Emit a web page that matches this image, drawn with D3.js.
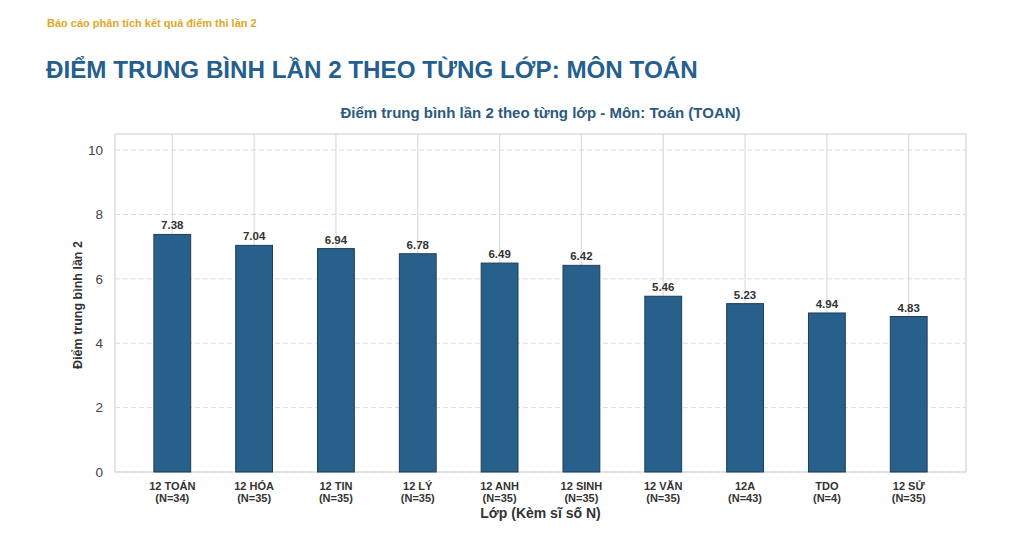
<!DOCTYPE html>
<html><head><meta charset="utf-8">
<script src="https://cdn.jsdelivr.net/npm/d3@7/dist/d3.min.js"></script>
<style>body{margin:0;background:#fff;}svg{display:block;font-family:"Liberation Sans",Arial,sans-serif;}</style>
</head><body>
<script>
const classes = ["12 TOÁN","12 HÓA","12 TIN","12 LÝ","12 ANH","12 SINH","12 VĂN","12A","TDO","12 SỬ"];
const counts = [34,35,35,35,35,35,35,43,4,35];
const scores = [7.38,7.04,6.94,6.78,6.49,6.42,5.46,5.23,4.94,4.83];
const yTicks = [0,2,4,6,8,10];

const W=1020,H=559;
const svg=d3.select("body").append("svg").attr("width",W).attr("height",H);
const L=115,R=966,T=134,B=472;
const x=d3.scaleLinear().domain([-0.7,classes.length-1+0.7]).range([L,R]);
const y=d3.scaleLinear().domain([0,10.5]).range([B,T]);
const bw=(x(0.45)-x(0));

svg.append("text").attr("x",47).attr("y",27).attr("font-size",11).attr("font-weight","bold").attr("fill","#e2a629").text("Báo cáo phân tích kết quả điểm thi lần 2");
svg.append("text").attr("x",46).attr("y",78).attr("font-size",24.2).attr("font-weight","bold").attr("fill","#245f8e").text("ĐIỂM TRUNG BÌNH LẦN 2 THEO TỪNG LỚP: MÔN TOÁN");
svg.append("text").attr("x",(L+R)/2).attr("y",118).attr("text-anchor","middle").attr("font-size",15).attr("font-weight","bold").attr("fill","#2b5a80").text("Điểm trung bình lần 2 theo từng lớp - Môn: Toán (TOAN)");

// grid
svg.append("g").selectAll("line").data(yTicks).join("line")
 .attr("x1",L).attr("x2",R).attr("y1",d=>y(d)).attr("y2",d=>y(d))
 .attr("stroke","#dcdcdc").attr("stroke-dasharray","5,3").attr("stroke-width",1);
svg.append("g").selectAll("line").data(classes).join("line")
 .attr("x1",(d,i)=>x(i)).attr("x2",(d,i)=>x(i)).attr("y1",T).attr("y2",B)
 .attr("stroke","#dcdcdc").attr("stroke-width",1.2);
svg.append("rect").attr("x",L).attr("y",T).attr("width",R-L).attr("height",B-T).attr("fill","none").attr("stroke","#d9d9d9").attr("stroke-width",1.3);

// bars
svg.append("g").selectAll("rect").data(scores).join("rect")
 .attr("x",(d,i)=>x(i)-bw/2).attr("width",bw).attr("y",d=>y(d)).attr("height",d=>y(0)-y(d))
 .attr("fill","#28608c").attr("stroke","#1e3d57").attr("stroke-width",1);
svg.append("g").selectAll("text").data(scores).join("text")
 .attr("x",(d,i)=>x(i)).attr("y",d=>y(d)-5).attr("text-anchor","middle")
 .attr("font-size",11.5).attr("font-weight","bold").attr("fill","#333").text(d=>d.toFixed(2));

// y axis
const ya=d3.axisLeft(y).tickValues(yTicks).tickSize(0).tickPadding(12);
const gy=svg.append("g").attr("transform",`translate(${L},0)`).call(ya);
gy.select(".domain").remove();
gy.selectAll("text").attr("font-size",13.5).attr("fill","#444").attr("font-family","Liberation Sans, Arial, sans-serif");

// x labels
const gx=svg.append("g");
classes.forEach((c,i)=>{
  const t=gx.append("text").attr("x",x(i)).attr("y",490).attr("text-anchor","middle").attr("font-size",11).attr("font-weight","bold").attr("fill","#333");
  t.append("tspan").attr("x",x(i)).text(c);
  t.append("tspan").attr("x",x(i)).attr("dy",11.5).text(`(N=${counts[i]})`);
});
svg.append("text").attr("x",(L+R)/2).attr("y",518).attr("text-anchor","middle").attr("font-size",14).attr("font-weight","bold").attr("fill","#333").text("Lớp (Kèm sĩ số N)");
svg.append("text").attr("transform",`translate(82,${(T+B)/2+2}) rotate(-90)`).attr("text-anchor","middle").attr("font-size",12.5).attr("font-weight","bold").attr("fill","#333").text("Điểm trung bình lần 2");
</script>
</body></html>
